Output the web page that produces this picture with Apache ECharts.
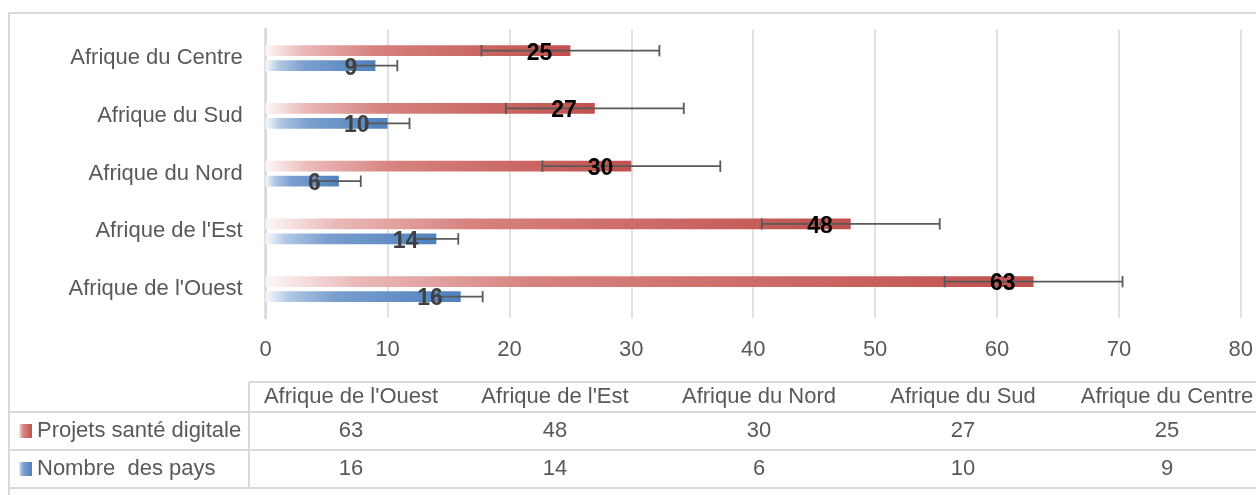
<!DOCTYPE html>
<html>
<head>
<meta charset="utf-8">
<script src="https://cdn.jsdelivr.net/npm/echarts@6/dist/echarts.min.js"></script>
<style>
  html, body { margin: 0; padding: 0; background: #fff; }
  #main { width: 1256px; height: 495px; }
</style>
</head>
<body>
<div id="main"></div>
<script>
// données
var regions = ["Afrique de l'Ouest", "Afrique de l'Est", "Afrique du Nord", "Afrique du Sud", "Afrique du Centre"];
var projets = [63, 48, 30, 27, 25];
var pays = [16, 14, 6, 10, 9];
// barres d'erreur (erreur standard)
var projetsErr = [7.3, 7.3, 7.3, 7.3, 7.3];
var paysErr = [1.8, 1.8, 1.8, 1.8, 1.8];
var seriesNames = ["Projets santé digitale", "Nombre  des pays"];

var FONT = "'Liberation Sans', Arial, sans-serif";
var GREY = "#595959";
var LINE = "#d9d9d9";
var BAR_W = 10.7;
var BAR_GAP = 4.3;
var OFF = (BAR_W + BAR_GAP) / 2;

function grad(stops) {
  return new echarts.graphic.LinearGradient(0, 0, 1, 0, stops);
}
var redGrad = function () {
  return grad([
    { offset: 0, color: "#fdf7f7" },
    { offset: 0.12, color: "#eab9b8" },
    { offset: 0.35, color: "#d6827f" },
    { offset: 1, color: "#c0504d" }
  ]);
};
var blueGrad = function () {
  return grad([
    { offset: 0, color: "#f7f9fd" },
    { offset: 0.12, color: "#b1c7e4" },
    { offset: 0.35, color: "#7b9fcf" },
    { offset: 1, color: "#4f81bd" }
  ]);
};

// barre d'erreur, décalée comme la barre
function errorItem(offset) {
  return function (params, api) {
    var v = api.value(0), c = api.value(1), e = api.value(2);
    var lo = api.coord([v - e, c]);
    var hi = api.coord([v + e, c]);
    var y = lo[1] + offset;
    var st = { stroke: "#595959", lineWidth: 1.8 };
    return {
      type: "group",
      children: [
        { type: "line", shape: { x1: lo[0], y1: y, x2: hi[0], y2: y }, style: st },
        { type: "line", shape: { x1: lo[0], y1: y - 5.7, x2: lo[0], y2: y + 5.7 }, style: st },
        { type: "line", shape: { x1: hi[0], y1: y - 5.7, x2: hi[0], y2: y + 5.7 }, style: st }
      ]
    };
  };
}
function labelItem(offset, color) {
  return function (params, api) {
    var v = api.value(0), c = api.value(1);
    var p = api.coord([v, c]);
    return {
      type: "text",
      z2: 10,
      style: {
        text: String(v), x: p[0] - 18, y: p[1] + offset + 2.5,
        align: "right", verticalAlign: "middle",
        fontFamily: FONT, fontWeight: "bold", fontSize: 23, fill: color
      }
    };
  };
}

// tableau de données sous le graphique
var colW = 204, col0 = 351;
var rowY = [397, 431, 469];
var table = [
  { type: "rect", shape: { x: 9, y: 13, width: 1280, height: 540 }, style: { fill: "none", stroke: LINE, lineWidth: 2 } },
  { type: "line", shape: { x1: 249, y1: 382, x2: 1260, y2: 382 }, style: { stroke: LINE, lineWidth: 2 } },
  { type: "line", shape: { x1: 9, y1: 412, x2: 1260, y2: 412 }, style: { stroke: LINE, lineWidth: 2 } },
  { type: "line", shape: { x1: 9, y1: 450, x2: 1260, y2: 450 }, style: { stroke: LINE, lineWidth: 2 } },
  { type: "line", shape: { x1: 9, y1: 488, x2: 1260, y2: 488 }, style: { stroke: LINE, lineWidth: 2 } },
  { type: "line", shape: { x1: 249, y1: 382, x2: 249, y2: 488 }, style: { stroke: LINE, lineWidth: 2 } },
  { type: "rect", shape: { x: 19, y: 424, width: 13, height: 14 }, style: { fill: redGrad() } },
  { type: "rect", shape: { x: 19, y: 462, width: 13, height: 14 }, style: { fill: blueGrad() } },
  { type: "text", style: { text: seriesNames[0], x: 37, y: rowY[1], verticalAlign: "middle", fontFamily: FONT, fontSize: 22, fill: GREY } },
  { type: "text", style: { text: seriesNames[1], x: 37, y: rowY[2], verticalAlign: "middle", fontFamily: FONT, fontSize: 22, fill: GREY } }
];
regions.forEach(function (r, i) {
  var cx = col0 + colW * i;
  [r, projets[i], pays[i]].forEach(function (t, k) {
    table.push({
      type: "text",
      style: { text: String(t), x: cx, y: rowY[k], align: "center", verticalAlign: "middle", fontFamily: FONT, fontSize: 22, fill: GREY }
    });
  });
});

var chart = echarts.init(document.getElementById("main"));
chart.setOption({
  backgroundColor: "#fff",
  animation: false,
  textStyle: { fontFamily: FONT },
  grid: { left: 265.7, right: 14.3, top: 29.3, bottom: 177 },
  xAxis: {
    type: "value", min: 0, max: 80, interval: 10,
    axisLine: { show: false },
    axisTick: { show: false },
    splitLine: { lineStyle: { color: LINE, width: 1.5 } },
    axisLabel: { color: GREY, fontSize: 22, margin: 21, fontFamily: FONT }
  },
  yAxis: {
    type: "category", data: regions,
    axisLine: { lineStyle: { color: LINE, width: 2.5 } },
    axisTick: { length: 7, lineStyle: { color: LINE, width: 2.5 } },
    axisLabel: { color: GREY, fontSize: 22, margin: 23, fontFamily: FONT }
  },
  graphic: table,
  series: [
    // en ECharts la première série est en haut de la bande
    { name: seriesNames[0], type: "bar", data: projets, barWidth: BAR_W, barGap: "40%", itemStyle: { color: redGrad() } },
    { name: seriesNames[1], type: "bar", data: pays, barWidth: BAR_W, barGap: "40%", itemStyle: { color: blueGrad() } },
    { type: "custom", z: 3, renderItem: errorItem(-OFF), encode: { x: 0, y: 1 },
      data: projets.map(function (v, i) { return [v, i, projetsErr[i]]; }) },
    { type: "custom", z: 3, renderItem: errorItem(OFF), encode: { x: 0, y: 1 },
      data: pays.map(function (v, i) { return [v, i, paysErr[i]]; }) },
    { type: "custom", z: 4, renderItem: labelItem(-OFF, "#000"), encode: { x: 0, y: 1 },
      data: projets.map(function (v, i) { return [v, i]; }) },
    { type: "custom", z: 4, renderItem: labelItem(OFF, "#404040"), encode: { x: 0, y: 1 },
      data: pays.map(function (v, i) { return [v, i]; }) }
  ]
});
</script>
</body>
</html>
